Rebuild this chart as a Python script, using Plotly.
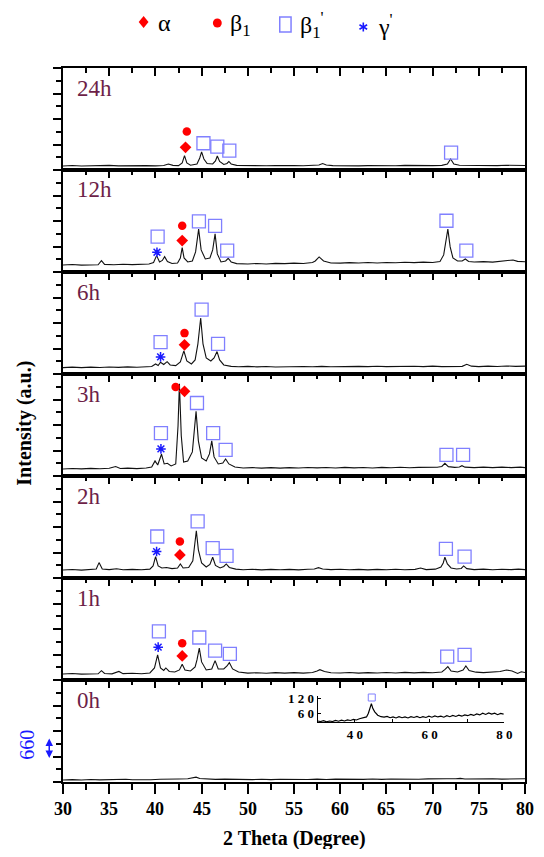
import plotly.graph_objects as go

# ---------------- data ----------------
panels = ["24h", "12h", "6h", "3h", "2h", "1h", "0h"]

x24 = [30,31,32,33,34,35,36,37,38,39,40,40.9,41.4,41.9,42.5,42.9,43.15,43.4,43.8,44.5,44.8,45.0,45.25,45.6,46.2,46.5,46.7,46.95,47.4,47.75,47.95,48.2,48.8,50,51,52,53,54,55,56,57,57.7,58.1,58.5,59.2,60,61,62,63,64,65,66,67,68,69,70,71,71.6,71.95,72.3,72.9,74,75,76,77,78,79,80]
y24 = [104,117,104,112,104,120,107,114,104,112,107,117,156,120,114,182,372,182,125,156,312,468,286,169,156,234,364,221,143,169,221,156,120,112,120,109,117,107,114,109,117,130,169,130,114,109,117,107,114,109,117,109,120,112,117,114,120,156,286,156,122,117,112,120,114,122,112,117]

x12 = [30,31,32,33,33.8,34.16,34.5,35.5,36.5,37.5,38.5,39.3,39.8,40.13,40.45,40.75,41.0,41.3,41.8,42.4,42.7,42.9,43.1,43.5,44.0,44.35,44.68,44.95,45.4,45.9,46.2,46.46,46.7,47.1,47.6,47.88,48.2,48.8,50,51,52,53,54,55,56,57,57.3,57.72,58.2,59,60,61,62,63,64,65,66,67,68,69,70,70.8,71.2,71.45,71.65,71.9,72.2,72.7,73.2,73.54,73.9,74.5,75.5,76.5,77.5,78.2,78.7,79.2,80]
y12 = [182,195,177,192,187,294,198,187,200,190,203,208,247,424,260,299,398,273,221,234,364,632,364,260,286,520,1110,572,338,364,572,988,468,260,286,356,260,216,208,221,208,224,216,229,221,247,286,390,286,234,229,242,231,244,234,247,239,252,242,255,247,273,442,780,1110,650,364,286,286,338,273,260,268,255,273,286,312,276,265]

x6 = [30,31,32,33,34,35,36,37,38,39,39.6,40.02,40.3,40.55,40.9,41.27,41.6,42.2,42.7,43.08,43.4,43.9,44.3,44.6,44.9,45.15,45.5,46.0,46.35,46.67,46.95,47.4,48.2,49,50,51,52,53,54,55,56,57,58,59,60,61,62,63,64,65,66,67,68,69,70,71,72,73.2,73.7,74.2,75,76,77,78,79,80]
y6 = [164,177,166,179,169,182,172,185,174,187,195,260,221,304,247,320,234,216,312,598,338,260,364,780,1448,780,416,338,416,580,364,234,198,187,198,185,195,182,192,185,195,187,198,187,195,185,198,190,200,190,198,187,200,190,203,192,203,198,252,203,192,205,195,208,198,205]

x3 = [30,31,32,33,34,35,35.7,36.2,37,38,39,39.6,39.96,40.25,40.66,40.95,41.3,41.7,42.2,42.45,42.6,42.8,43.05,43.5,44.0,44.2,44.4,44.65,45.0,45.5,45.85,46.1,46.35,46.8,47.3,47.6,47.95,48.6,49.5,50.5,51.5,52.5,53.5,54.5,55.5,56.5,57.5,58.5,59.5,60.5,61.5,62.5,63.5,64.5,65.5,66.5,67.5,68.5,69.5,70.5,71.0,71.33,71.7,72.4,72.9,73.18,73.5,74.5,75.5,76.5,77.5,78.5,79.5,80]
y3 = [182,195,185,198,187,200,247,195,203,192,208,234,390,286,564,312,330,260,312,1300,2384,1040,364,390,624,1170,1672,910,468,390,572,910,494,312,338,442,312,234,208,218,203,216,205,218,208,221,211,221,208,224,211,221,208,224,213,226,213,224,216,226,247,330,242,224,234,268,229,216,229,216,231,218,229,218]

x2 = [30,31,32,33,33.6,33.9,34.25,35,35.8,36.5,37.5,38.5,39.4,39.75,40.02,40.3,40.7,41.2,41.8,42.4,42.7,43.0,43.6,44.05,44.25,44.43,44.65,45.0,45.5,45.9,46.2,46.5,47.0,47.4,47.67,48.0,48.7,49.5,50.5,51.5,52.5,53.5,54.5,55.5,56.5,57.2,57.65,58.1,59,60,61,62,63,64,65,66,67,68.1,68.7,69.3,70.3,70.9,71.15,71.33,71.6,72.0,72.6,73.1,73.36,73.7,74.5,75.5,76.5,77.5,78.5,79.3,80]
y2 = [208,221,205,218,234,398,234,216,239,213,224,213,229,312,554,312,260,273,242,260,364,260,273,442,832,1222,728,390,286,351,538,325,260,299,364,273,229,213,226,211,224,213,224,211,226,234,268,234,216,226,213,224,211,224,213,226,213,224,260,218,229,286,390,538,364,260,234,247,312,242,218,229,213,226,216,229,216]

x1 = [30,31,32,33,33.8,34.16,34.5,35.3,36.05,36.5,37.5,38.5,39.4,39.9,40.24,40.55,40.9,41.13,41.5,42.1,42.6,42.9,43.2,43.8,44.3,44.5,44.75,45.0,45.5,46.1,46.46,46.8,47.4,47.75,48.0,48.35,49,50,51,52,53,54,55,56,57.0,57.5,57.8,58.3,59,60,61,62,63,64,65,66,67,68,69,70,71.0,71.35,71.65,72.0,72.7,73.3,73.6,73.95,74.7,75.5,76.5,77.3,78.0,78.6,79.2,79.6,80]
y1 = [156,169,153,166,161,242,169,159,221,164,174,161,182,312,650,312,247,312,221,208,260,408,260,234,338,520,824,468,260,286,502,286,286,364,450,286,208,177,187,174,190,177,192,179,195,234,268,221,187,182,195,179,192,182,195,182,198,185,198,187,208,273,346,234,208,260,364,247,203,192,203,221,260,234,169,213,195]

x0 = [30,31,32,33,34,35,36,36.8,37.5,38.5,39.5,40.5,41.5,42.5,43.5,44.1,44.4,44.8,45.5,46.5,47.5,48.5,49.5,50.5,51.5,52.5,53.5,54.5,55.5,56.5,57.5,58.5,59.5,60.5,61.5,62.5,63.5,64.5,65.5,66.5,67.5,68.5,69.5,70.5,71.5,72.5,73,73.5,74.5,75.5,76.5,77.5,78.5,79.5,80]
y0 = [52,62,52,65,55,65,57,73,57,68,60,70,65,78,83,104,125,91,78,68,75,65,73,62,73,62,73,65,75,65,75,65,75,68,78,68,78,68,78,70,81,70,81,73,83,86,94,78,86,75,86,75,86,78,86]

# inset (0h, magnified)
inset_x = [30,30.8,31.6,32.4,33.2,34,34.8,35.6,36.4,37.2,38,38.8,39.6,40.4,41.2,41.8,42.5,43.1,43.6,44.0,44.4,44.8,45.3,46.1,47.0,47.8,48.6,49.4,50.2,51,51.8,52.6,53.4,54.2,55,55.8,56.6,57.4,58.2,59,59.8,60.6,61.4,62.2,63,63.8,64.6,65.4,66.2,67,67.8,68.6,69.4,70.2,71,71.8,72.6,73.4,74.2,75,75.8,76.6,77.4,78.2,79,79.8]
inset_y = [29,27,30,26,29,27,31,28,32,29,33,31,35,33,38,40,42,45,60,80,98,78,65,52,46,44,47,42,45,41,46,42,45,41,46,43,47,42,46,43,48,44,49,45,48,44,50,46,51,47,52,48,53,50,55,51,57,53,60,55,61,56,60,54,59,56]
inset_peak_x = [44.5]
inset_peak_y = [122]
inset_tickvals = [40, 50, 60, 70, 80]
inset_ticktext = ["4 0", " ", "6 0", " ", "8 0"]
inset_ytickvals = [60, 120]
inset_yticktext = ["6 0", "1 2 0"]

# phase markers
alpha_panel = ["24h", "12h", "6h", "3h", "2h", "1h"]
alpha_x = [43.26, 42.9, 43.15, 43.15, 42.65, 42.9]
alpha_y = [588, 814, 754, 2192, 598, 624]

beta1_panel = ["24h", "12h", "6h", "3h", "2h", "1h"]
beta1_x = [43.4, 42.9, 43.15, 42.19, 42.65, 42.9]
beta1_y = [996, 1196, 1058, 2306, 944, 954]

beta1p_panel = ["24h"]*4 + ["12h"]*6 + ["6h"]*3 + ["3h"]*6 + ["2h"]*6 + ["1h"]*6
beta1p_x = [45.2, 46.7, 48.0, 72.0,
            40.24, 44.71, 46.46, 47.77, 71.5, 73.65,
            40.56, 45.0, 46.78,
            40.6, 44.5, 46.25, 47.6, 71.5, 73.3,
            40.2, 44.57, 46.2, 47.7, 71.44, 73.46,
            40.38, 44.75, 46.46, 48.06, 71.58, 73.46]
beta1p_y = [692, 604, 500, 448,
            918, 1308, 1196, 554, 1326, 554,
            824, 1664, 780,
            1110, 1890, 1110, 676, 546, 546,
            1074, 1464, 772, 572, 754, 554,
            1256, 1100, 762, 676, 606, 650]

gamma_panel = ["12h", "6h", "3h", "2h", "1h"]
gamma_x = [40.17, 40.56, 40.6, 40.13, 40.3]
gamma_y = [512, 442, 702, 684, 850]

scale_bar = "660"
x_ticks = [30, 35, 40, 45, 50, 55, 60, 65, 70, 75, 80]

series_x = [x24, x12, x6, x3, x2, x1, x0]
series_y = [y24, y12, y6, y3, y2, y1, y0]

# ---------------- style / layout ----------------
# page body has an 8px margin: figure is drawn at (8, 8) in the window
OFF = 8
W, H = 528, 841
L, R, T, B = 55, 3, 60, 67
PW = W - L - R
PH = H - T - B
def px2x(px):          # window pixel -> paper x
    return (px - OFF - L) / PW
def px2y(py):          # window pixel -> paper y
    return (H - B - (py - OFF)) / PH

SERIF = "Liberation Serif, Times New Roman, serif"
RED = "#ff0000"
SQ = "#8080ff"
BLUE = "#1a1aff"
MAROON = "#6d1f48"

fig = go.Figure()
layout = dict(width=W, height=H, margin=dict(l=L, r=R, t=T, b=B, pad=0),
              paper_bgcolor="white", plot_bgcolor="white", showlegend=False,
              font=dict(family=SERIF, color="black"))

n = len(panels)
annotations = []
for i, name in enumerate(panels):
    s = "" if i == 0 else str(i + 1)
    xa, ya = "x" + s, "y" + s
    layout["xaxis" + s] = dict(domain=[0, 1], anchor=ya, range=[30, 80], side="top",
                               ticks="inside", ticklen=8, tickwidth=1.5, tickcolor="black",
                               tick0=30, dtick=5, showticklabels=False,
                               showline=True, linewidth=1.5, linecolor="black", mirror=True,
                               showgrid=False, zeroline=False,
                               minor=dict(ticks="inside", ticklen=5, tickwidth=1.5, tickcolor="black",
                                          dtick=2.5, tick0=30, showgrid=False))
    layout["yaxis" + s] = dict(domain=[(n - 1 - i) / n, (n - i) / n], anchor=xa, range=[0, 2640],
                               ticks="outside", ticklen=8, tickwidth=1.5, tickcolor="black",
                               tick0=0, dtick=660, showticklabels=False,
                               showline=True, linewidth=1.5, linecolor="black", mirror=True,
                               showgrid=False, zeroline=False,
                               minor=dict(ticks="outside", ticklen=5, tickwidth=1.5, tickcolor="black",
                                          dtick=330, tick0=0, showgrid=False))
    fig.add_trace(go.Scatter(x=series_x[i], y=series_y[i], mode="lines",
                             line=dict(color="#111111", width=1.1), xaxis=xa, yaxis=ya,
                             hoverinfo="skip"))
    for pn, px_, py_, sym, size, col, lw in [
        (alpha_panel, alpha_x, alpha_y, "diamond", 9, RED, 0),
        (beta1_panel, beta1_x, beta1_y, "circle", 8.5, RED, 0),
        (beta1p_panel, beta1p_x, beta1p_y, "square-open", 13, SQ, 1.3),
        (gamma_panel, gamma_x, gamma_y, "asterisk-open", 8, BLUE, 1.5),
    ]:
        mx = [a for p, a in zip(pn, px_) if p == name]
        my = [b for p, b in zip(pn, py_) if p == name]
        if mx:
            fig.add_trace(go.Scatter(x=mx, y=my, mode="markers", xaxis=xa, yaxis=ya,
                                     cliponaxis=False, hoverinfo="skip",
                                     marker=dict(symbol=sym, size=size, color=col,
                                                 line=dict(color=col, width=lw))))
    top_px = OFF + T + i * PH / n
    annotations.append(dict(text=name, xref="paper", yref="paper", x=px2x(75), y=px2y(top_px + 20),
                            xanchor="left", yanchor="middle", showarrow=False,
                            font=dict(family=SERIF, size=23, color=MAROON)))

# bottom axis (ticks only; labels as text below)
layout["xaxis8"] = dict(overlaying="x7", anchor="y7", side="bottom", range=[30, 80],
                        ticks="outside", ticklen=10, tickwidth=1.5, tickcolor="black",
                        tickvals=x_ticks, showticklabels=False,
                        showline=True, linewidth=1.5, linecolor="black",
                        showgrid=False, zeroline=False,
                        minor=dict(ticks="outside", ticklen=6, tickwidth=1.5, tickcolor="black",
                                   dtick=2.5, tick0=30, showgrid=False))
fig.add_trace(go.Scatter(x=[30, 80], y=[-500, -500], mode="markers", xaxis="x8", yaxis="y7",
                         marker=dict(opacity=0), hoverinfo="skip"))
for v in x_ticks:
    annotations.append(dict(text=str(v), xref="x8", yref="paper", x=v, y=px2y(809),
                            xanchor="center", yanchor="middle", showarrow=False,
                            font=dict(family=SERIF, size=18, color="black", weight="bold")))
annotations.append(dict(text="2 Theta (Degree)", xref="paper", yref="paper", x=0.5, y=px2y(838),
                        xanchor="center", yanchor="middle", showarrow=False, borderpad=0,
                        font=dict(family=SERIF, size=20, color="black", weight="bold")))

# inset
layout["xaxis9"] = dict(domain=[px2x(322), px2x(512)], anchor="y9", range=[30, 80],
                        tickvals=inset_tickvals, ticktext=inset_ticktext,
                        ticks="inside", ticklen=3, tickwidth=1, tickcolor="black",
                        tickfont=dict(family=SERIF, size=13, color="black", weight="bold"),
                        showline=True, linewidth=1, linecolor="black",
                        showgrid=False, zeroline=False)
layout["yaxis9"] = dict(domain=[px2y(722), px2y(696)], anchor="x9", range=[25, 128],
                        tickvals=inset_ytickvals, ticktext=inset_yticktext,
                        ticks="inside", ticklen=3, tickwidth=1, tickcolor="black",
                        tickfont=dict(family=SERIF, size=13, color="black", weight="bold"),
                        showline=True, linewidth=1, linecolor="black",
                        showgrid=False, zeroline=False)
fig.add_trace(go.Scatter(x=inset_x, y=inset_y, mode="lines", xaxis="x9", yaxis="y9",
                         line=dict(color="black", width=1.2), hoverinfo="skip"))
fig.add_trace(go.Scatter(x=inset_peak_x, y=inset_peak_y, mode="markers", xaxis="x9", yaxis="y9",
                         cliponaxis=False, hoverinfo="skip",
                         marker=dict(symbol="square-open", size=7, color=SQ, line=dict(color=SQ, width=1))))

# y title
annotations.append(dict(text="Intensity (a.u.)", xref="paper", yref="paper",
                        x=px2x(23), y=px2y(423), textangle=-90, showarrow=False,
                        xanchor="center", yanchor="middle",
                        font=dict(family=SERIF, size=20, color="black", weight="bold")))
# scale bar
annotations.append(dict(text=scale_bar, xref="paper", yref="paper",
                        x=px2x(26), y=px2y(745), textangle=-90, showarrow=False,
                        xanchor="center", yanchor="middle",
                        font=dict(family=SERIF, size=20, color=BLUE)))
annotations.append(dict(text=" ", xref="paper", yref="paper", x=px2x(49), y=px2y(758),
                        ax=0, ay=-28, showarrow=True, arrowside="end+start",
                        arrowhead=2, startarrowhead=2, arrowsize=1, startarrowsize=1,
                        arrowwidth=1.5, arrowcolor=BLUE, standoff=0, startstandoff=0))

# legend (top)
leg_font = dict(family=SERIF, size=24, color="black")
annotations.append(dict(text="α", xref="paper", yref="paper", x=px2x(158), y=px2y(23),
                        xanchor="left", yanchor="middle", showarrow=False, font=leg_font))
annotations.append(dict(text="β<sub>1</sub>", xref="paper", yref="paper", x=px2x(231), y=px2y(25),
                        xanchor="left", yanchor="middle", showarrow=False, font=leg_font))
annotations.append(dict(text="β<sub>1</sub><sup>'</sup>", xref="paper", yref="paper", x=px2x(302), y=px2y(25),
                        xanchor="left", yanchor="middle", showarrow=False, font=leg_font))
annotations.append(dict(text="γ<sup>'</sup>", xref="paper", yref="paper", x=px2x(381), y=px2y(25),
                        xanchor="left", yanchor="middle", showarrow=False, font=leg_font))

def path(pts):
    return "M " + " L ".join(f"{px2x(a):.5f},{px2y(b):.5f}" for a, b in pts) + " Z"

shapes = []
shapes.append(dict(type="path", xref="paper", yref="paper",
                   path=path([(140, 22), (145, 16), (150, 22), (145, 28)]),
                   fillcolor=RED, line=dict(width=0)))
shapes.append(dict(type="circle", xref="paper", yref="paper",
                   x0=px2x(215.5), x1=px2x(224.5), y0=px2y(27.5), y1=px2y(18.5),
                   fillcolor=RED, line=dict(width=0)))
shapes.append(dict(type="rect", xref="paper", yref="paper",
                   x0=px2x(283.5), x1=px2x(295), y0=px2y(32), y1=px2y(17),
                   line=dict(color=SQ, width=1.5)))
cx, cy = 368.5, 27
for (a, b, c, d) in [(0, -4.5, 0, 4.5), (-3.9, -2.25, 3.9, 2.25), (-3.9, 2.25, 3.9, -2.25)]:
    shapes.append(dict(type="line", xref="paper", yref="paper",
                       x0=px2x(cx + a), y0=px2y(cy + b), x1=px2x(cx + c), y1=px2y(cy + d),
                       line=dict(color=BLUE, width=1.6)))

layout["annotations"] = annotations
layout["shapes"] = shapes
fig.update_layout(**layout)
fig.write_html("out.html")
